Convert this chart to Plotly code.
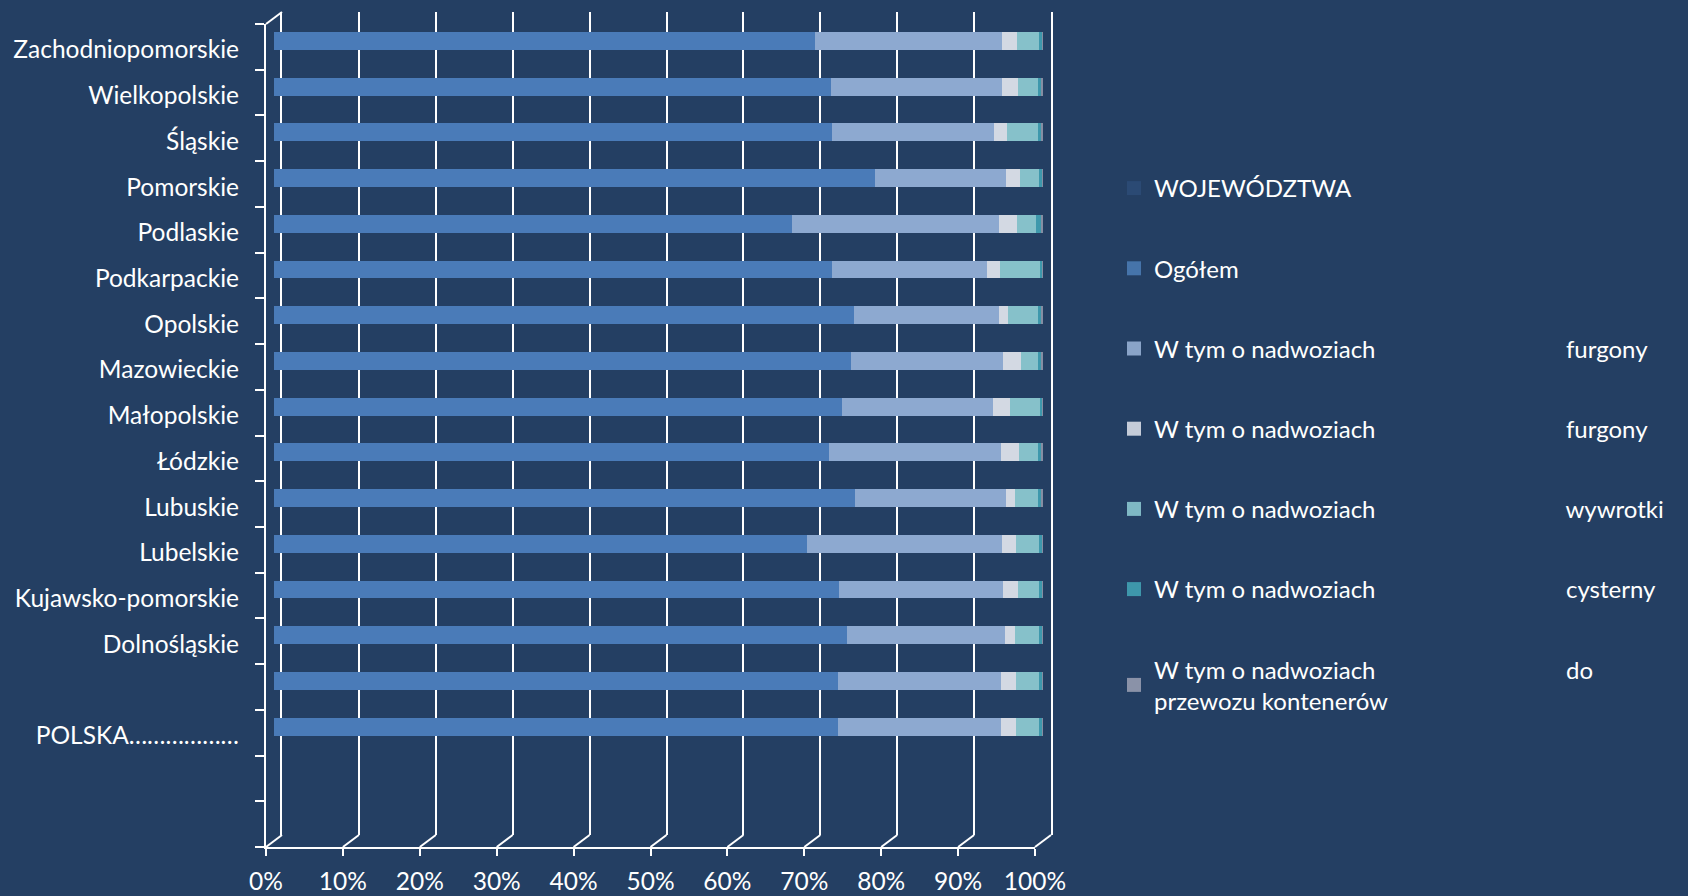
import plotly.graph_objects as go

W, H = 1688, 896
BG = "#243F63"
FONT = "Lato"

# categories, top to bottom as displayed
regions = ["Zachodniopomorskie", "Wielkopolskie", "Śląskie", "Pomorskie", "Podlaskie",
           "Podkarpackie", "Opolskie", "Mazowieckie", "Małopolskie", "Łódzkie",
           "Lubuskie", "Lubelskie", "Kujawsko-pomorskie", "Dolnośląskie", "",
           "POLSKA………………", "", ""]

series_names = ["WOJEWÓDZTWA", "Ogółem", "W tym o nadwoziach furgony",
                "W tym o nadwoziach furgony", "W tym o nadwoziach wywrotki",
                "W tym o nadwoziach cysterny", "W tym o nadwoziach do przewozu kontenerów"]

wojewodztwa = [0] * 16 + [None, None]
ogolem   = [70.3, 72.4, 72.5, 78.2, 67.4, 72.5, 75.4, 75.0, 73.8, 72.1, 75.6, 69.3, 73.5, 74.5, 73.3, 73.3, None, None]
furgony1 = [24.4, 22.3, 21.1, 17.0, 26.9, 20.2, 18.9, 19.8, 19.7, 22.4, 19.6, 25.4, 21.3, 20.6, 21.2, 21.3, None, None]
furgony2 = [1.9, 2.1, 1.7, 1.8, 2.3, 1.7, 1.2, 2.3, 2.2, 2.3, 1.2, 1.8, 1.9, 1.2, 2.0, 1.9, None, None]
wywrotki = [2.9, 2.6, 4.0, 2.5, 2.5, 5.2, 3.9, 2.2, 3.9, 2.4, 3.0, 3.0, 2.8, 3.2, 3.0, 3.0, None, None]
cysterny = [0.4, 0.4, 0.4, 0.4, 0.6, 0.3, 0.4, 0.5, 0.3, 0.5, 0.4, 0.4, 0.4, 0.4, 0.4, 0.4, None, None]
kontenery = [0.1, 0.2, 0.3, 0.1, 0.3, 0.1, 0.2, 0.2, 0.1, 0.2, 0.2, 0.1, 0.1, 0.1, 0.1, 0.1, None, None]

x_ticks = [0, 10, 20, 30, 40, 50, 60, 70, 80, 90, 100]
x_tick_labels = [f"{v}%" for v in x_ticks]

colors = ["#2B4A74", "#4A7BB8", "#8DA9D0", "#D3D9E3", "#86C1CA", "#3E98AC", "#868EA3"]
legend_colors = ["#2B4A74", "#4674AA", "#8AA4C8", "#C5CCD8", "#7FB8C4", "#3E97AB", "#8A92A8"]

# legend label layout (left part, padding, right word)
leg_left = "W tym o nadwoziach"
PAD = "\u00a0" * 31
legend_labels = ["WOJEWÓDZTWA", "Ogółem",
                 leg_left + PAD + "furgony",
                 leg_left + PAD + "furgony",
                 leg_left + PAD + "wywrotki",
                 leg_left + PAD + "cysterny",
                 leg_left + PAD + "do<br>przewozu kontenerów"]

values = [wojewodztwa, ogolem, furgony1, furgony2, wywrotki, cysterny, kontenery]

# geometry of the pseudo-3D frame (pixels)
FRONT_X0, FRONT_X1, FRONT_Y0, FRONT_Y1 = 266, 1035, 24, 847
DX, DY = 16, -12
LABEL_DY = 3
def px(x):
    return x / W
def py(y):
    return 1 - y / H

ypos = list(range(len(regions)))
yrange = [len(regions) - 0.5, -0.5]

fig = go.Figure()

# back wall gridlines subplot (x, y)
fig.add_trace(go.Scatter(x=[None], y=[None], xaxis="x", yaxis="y",
                         showlegend=False, hoverinfo="skip"))

# bars (x2, y2) at mid depth
for i, (name, vals, col) in enumerate(zip(series_names, values, colors)):
    fig.add_trace(go.Bar(
        y=ypos, x=vals, orientation="h", name=name, showlegend=False,
        marker=dict(color=col, line=dict(width=0)),
        xaxis="x2", yaxis="y2", legendgroup=f"g{i}",
        hovertemplate=name + ": %{x}<extra></extra>"))

# front frame axis (x3, y3) and category label axis (y4)
fig.add_trace(go.Scatter(x=[None], y=[None], xaxis="x3", yaxis="y3",
                         showlegend=False, hoverinfo="skip"))
fig.add_trace(go.Scatter(x=[None], y=[None], xaxis="x3", yaxis="y4",
                         showlegend=False, hoverinfo="skip"))

# legend entries (square swatches)
for i, (lab, col) in enumerate(zip(legend_labels, legend_colors)):
    fig.add_trace(go.Scatter(x=[None], y=[None], xaxis="x3", yaxis="y3", mode="markers",
                             name=lab, legendgroup=f"g{i}", hoverinfo="skip",
                             marker=dict(symbol="square", size=14, color=col,
                                         line=dict(width=0))))

axis_font = dict(family=FONT, size=24.5, color="white")

fig.update_layout(
    width=W, height=H,
    margin=dict(l=0, r=0, t=0, b=0, autoexpand=False),
    paper_bgcolor=BG, plot_bgcolor="rgba(0,0,0,0)",
    barmode="stack", barnorm="percent", bargap=0.61,
    font=dict(family=FONT, color="white", size=24),
    xaxis=dict(domain=[px(FRONT_X0 + DX), px(FRONT_X1 + DX)], range=[0, 100],
               anchor="y", tickvals=x_ticks, showticklabels=False, ticks="",
               showgrid=True, gridcolor="white", gridwidth=2,
               zeroline=True, zerolinecolor="white", zerolinewidth=2, showline=False,
               automargin=False),
    yaxis=dict(domain=[py(FRONT_Y1 + DY), py(FRONT_Y0 + DY)], range=[0, 1],
               anchor="x", showticklabels=False, ticks="", showgrid=False, zeroline=False,
               showline=True, mirror=True, linecolor="white", linewidth=2,
               automargin=False),
    xaxis2=dict(domain=[px(FRONT_X0 + DX / 2), px(FRONT_X1 + DX / 2)], range=[0, 100],
                anchor="y2", visible=False, showgrid=False, zeroline=False, automargin=False),
    yaxis2=dict(domain=[py(FRONT_Y1 + DY / 2), py(FRONT_Y0 + DY / 2)], range=yrange,
                anchor="x2", visible=False, showgrid=False, zeroline=False, automargin=False),
    xaxis3=dict(domain=[px(FRONT_X0), px(FRONT_X1)], range=[0, 100], anchor="y3",
                tickmode="array", tickvals=x_ticks, ticktext=x_tick_labels,
                ticks="outside", ticklen=7, tickwidth=2, tickcolor="white",
                ticklabelstandoff=5,
                showline=True, linecolor="white", linewidth=2,
                showgrid=False, zeroline=False, tickfont=axis_font, automargin=False),
    yaxis3=dict(domain=[py(FRONT_Y1), py(FRONT_Y0)], range=yrange, anchor="x3",
                tickmode="array", tickvals=ypos, showticklabels=False, ticks="",
                minor=dict(tickmode="linear", tick0=-0.5, dtick=1, ticks="outside",
                           ticklen=9, tickwidth=2, tickcolor="white", showgrid=False),
                showline=True, linecolor="white", linewidth=2,
                showgrid=False, zeroline=False, automargin=False),
    yaxis4=dict(domain=[py(FRONT_Y1 + LABEL_DY), py(FRONT_Y0 + LABEL_DY)], range=yrange,
                anchor="free", position=px(FRONT_X0),
                tickmode="array", tickvals=ypos, ticktext=regions, ticks="",
                showline=False, showgrid=False, zeroline=False, tickfont=axis_font,
                ticklabelstandoff=27, automargin=False),
    legend=dict(x=px(1114), xanchor="left", y=py(166), yanchor="top",
                traceorder="grouped", tracegroupgap=46,
                font=dict(family=FONT, size=24, color="white"),
                bgcolor="rgba(0,0,0,0)", itemsizing="trace"),
)

# pseudo-3D depth edges of the frame
shapes = []
for v in x_ticks:
    xf = FRONT_X0 + (FRONT_X1 - FRONT_X0) * v / 100
    shapes.append(dict(type="line", xref="paper", yref="paper",
                       x0=px(xf), y0=py(FRONT_Y1), x1=px(xf + DX), y1=py(FRONT_Y1 + DY),
                       line=dict(color="white", width=2)))
shapes.append(dict(type="line", xref="paper", yref="paper",
                   x0=px(FRONT_X0), y0=py(FRONT_Y0), x1=px(FRONT_X0 + DX), y1=py(FRONT_Y0 + DY),
                   line=dict(color="white", width=2)))
fig.update_layout(shapes=shapes)

fig.write_html("out.html", config={"displayModeBar": False},
               post_script="document.body.style.margin='0';")
